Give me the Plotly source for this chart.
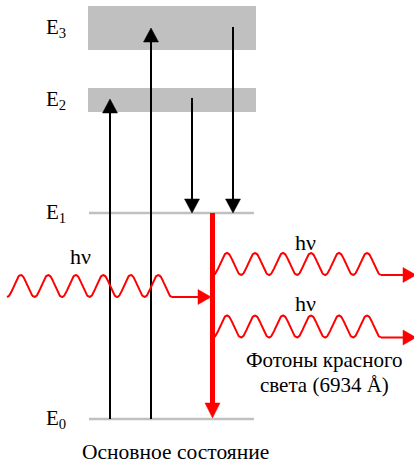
import numpy as np
import plotly.graph_objects as go

# ---- data (diagram units: 1 unit = 1 px, E0 = 0) ----
level_names = ["E<sub>0</sub>", "E<sub>1</sub>", "E<sub>2</sub>", "E<sub>3</sub>"]
level_bottom = [0, 206, 307, 369]
level_top = [0, 206, 331, 413]
level_x = [88, 256]

pump_x = [110, 151]
pump_to = [320, 391]
relax_x = [192, 233]
relax_from = [321, 392]
laser_x = 212.5

photon_label = "hν"
caption_photons = ["Фотоны красного", "света (6934 Å)"]
caption_ground = "Основное состояние"

FONT = "Liberation Serif"
RED = "#ff0000"
GRAY = "#c0c0c0"

fig = go.Figure()


def seg(x, y, color, width):
    fig.add_trace(go.Scatter(x=x, y=y, mode="lines", line=dict(color=color, width=width),
                             hoverinfo="skip", showlegend=False))


def head(xt, yt, dx, dy, length, half, color):
    n = np.hypot(dx, dy)
    ux, uy = dx / n, dy / n
    bx, by = xt - ux * length, yt - uy * length
    px, py = -uy, ux
    fig.add_trace(go.Scatter(
        x=[xt, bx + px * half, bx - px * half, xt],
        y=[yt, by + py * half, by - py * half, yt],
        mode="lines", fill="toself", fillcolor=color, line=dict(color=color, width=0.5),
        hoverinfo="skip", showlegend=False))


def arrow(x0, y0, x1, y1, color, width, length, half):
    n = np.hypot(x1 - x0, y1 - y0)
    ux, uy = (x1 - x0) / n, (y1 - y0) / n
    seg([x0, x1 - ux * length * 0.8], [y0, y1 - uy * length * 0.8], color, width)
    head(x1, y1, x1 - x0, y1 - y0, length, half, color)


def photon(x0, x1, center, amp, periods, tip_x):
    xs = np.linspace(x0, x1, 400)
    period = (x1 - x0) / periods
    ys = center - amp * np.cos(2 * np.pi * (xs - x0) / period)
    seg(xs, ys, RED, 2)
    arrow(x1, center - amp, tip_x, center - amp, RED, 2, 13, 7.5)


# energy bands / levels
for i in range(4):
    if level_top[i] > level_bottom[i]:
        fig.add_shape(type="rect", x0=level_x[0], x1=level_x[1], y0=level_bottom[i], y1=level_top[i],
                      fillcolor=GRAY, line=dict(width=0), layer="below")
    else:
        fig.add_shape(type="line", x0=level_x[0] + 1, x1=level_x[1] - 2, y0=level_bottom[i], y1=level_bottom[i],
                      line=dict(color=GRAY, width=2.5), layer="below")
    fig.add_annotation(x=68, y=(level_bottom[i] + level_top[i]) / 2, text=level_names[i],
                       showarrow=False, xanchor="right", yanchor="middle",
                       font=dict(family=FONT, size=21, color="black"))

# pump arrows (up)
for x, yt in zip(pump_x, pump_to):
    arrow(x, level_bottom[0], x, yt, "black", 2, 14, 7.5)

# relaxation arrows (down)
for x, yf in zip(relax_x, relax_from):
    arrow(x, yf, x, level_bottom[1], "black", 2, 14, 7.5)

# laser transition
arrow(laser_x, level_bottom[1], laser_x, level_bottom[0] + 1, RED, 5, 15, 7.5)

# photons
photon(7, 172, 133, 11, 6, 211)
photon(213, 381, 155, 11, 6, 416)
photon(213, 381, 92.5, 11, 6, 416)

# labels
for (x, y) in [(80, 163), (305, 177), (305, 116)]:
    fig.add_annotation(x=x, y=y, text=photon_label, showarrow=False,
                       font=dict(family=FONT, size=22, color="black"))
for y, t in zip([59, 34], caption_photons):
    fig.add_annotation(x=324, y=y, text=t, showarrow=False,
                       font=dict(family=FONT, size=21, color="black"))
fig.add_annotation(x=175.5, y=-33, text=caption_ground, showarrow=False,
                   font=dict(family=FONT, size=21.5, color="black"))

fig.update_layout(
    width=414, height=465, margin=dict(l=0, r=0, t=0, b=0),
    paper_bgcolor="white", plot_bgcolor="white",
    xaxis=dict(range=[0, 414], visible=False, fixedrange=True),
    yaxis=dict(range=[-46, 419], visible=False, fixedrange=True),
    showlegend=False,
)
fig.write_html("out.html", config={"displayModeBar": False},
               post_script="document.body.style.margin='0';document.body.style.overflow='hidden';")
